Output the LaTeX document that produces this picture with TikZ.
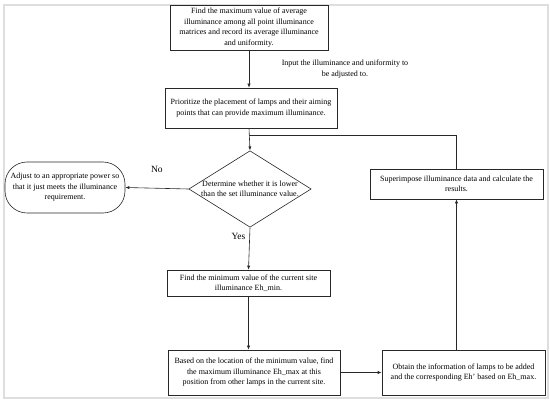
\documentclass[tikz,border=0pt]{standalone}
\usepackage{fontspec}
\setmainfont{Liberation Serif}
\usepackage{xcolor}
\usepackage{tikz}
\usetikzlibrary{positioning,arrows.meta,calc,shapes.geometric}
\definecolor{fLine}{RGB}{40,40,40}
\definecolor{fFrame}{RGB}{222,222,222}
\tikzset{
  proc/.style={rectangle, draw=fLine, fill=white, line width=0.6pt,
               inner sep=1pt, align=center, font=\fontsize{8}{10.5}\selectfont},
  term/.style={proc, rounded corners=22pt},
  decision/.style={diamond, aspect=1.6, draw=fLine, fill=white, line width=0.6pt,
                   inner sep=-0.2pt, align=center, font=\fontsize{8}{10.5}\selectfont},
  flow/.style={-{Latex[length=4pt,width=3.2pt]}, draw=fLine, line width=0.6pt},
  link/.style={draw=fLine, line width=0.6pt},
  lbl/.style={font=\fontsize{8}{10.5}\selectfont, align=center, inner sep=1pt},
  yn/.style={font=\fontsize{9.5}{11}\selectfont, inner sep=1pt},
}

\begin{document}
\begin{tikzpicture}[x=1pt, y=-1pt]
  \useasboundingbox (0,0) rectangle (550,401);
  \draw[fFrame, line width=1.5pt] (4,5) rectangle (548,398);

  % --- main column ---
  \node[proc, minimum width=158pt, minimum height=45pt] (find) at (249,27.5)
    {Find the maximum value of average\\illuminance among all point illuminance\\matrices and record its average illuminance\\and uniformity.};
  \node[proc, minimum width=172pt, minimum height=40pt] (prior) at (251,108)
    {Prioritize the placement of lamps and their aiming\\points that can provide maximum illuminance.};
  \node[decision] (decide) at (250,189)
    {Determine whether it is lower\\than the set illuminance value.};
  \node[term, minimum width=120pt, minimum height=51pt] (adjust) at (65,187.5)
    {Adjust to an appropriate power so\\that it just meets the illuminance\\requirement.};
  \node[proc, minimum width=163pt, minimum height=26pt] (minimum) at (248.5,283)
    {Find the minimum value of the current site\\illuminance Eh\_min.};
  \node[proc, minimum width=172pt, minimum height=45pt] (based) at (254,372.5)
    {Based on the location of the minimum value, find\\the maximum illuminance Eh\_max at this\\position from other lamps in the current site.};

  % --- right column (feedback loop) ---
  \node[proc, minimum width=163pt, minimum height=45pt] (obtain) at (463.5,372.5)
    {Obtain the information of lamps to be added\\and the corresponding Eh' based on Eh\_max.};
  \node[proc, minimum width=173pt, minimum height=30pt] (super) at (456.5,184)
    {Superimpose illuminance data and calculate the\\results.};
  \coordinate (join) at (249,135);

  \draw[flow] (find.south) -- (find.south |- prior.north)
    node[lbl, pos=0.5, xshift=96pt] (input) {Input the illuminance and uniformity to\\be adjusted to.};
  \draw[flow] (join |- prior.south) -- (decide.north);
  \draw[link] (super.north) |- (join);
  \draw[flow] (decide.west) -- (adjust.east) node[yn, pos=0.5, above=14pt] (no) {No};
  \draw[flow] (decide.south) -- (minimum.north) node[yn, pos=0.2, left=3pt] (yes) {Yes};
  \draw[flow] (minimum.south) -- (minimum.south |- based.north);
  \draw[flow] (based.east) -- (obtain.west);
  \draw[flow] (obtain.north -| super.south) -- (super.south);
\end{tikzpicture}
\end{document}
